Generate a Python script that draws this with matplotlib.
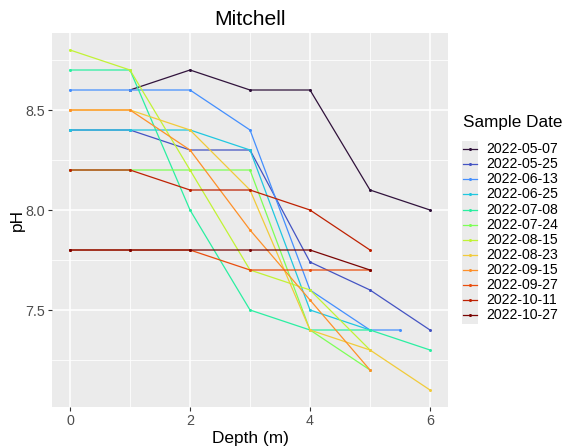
import matplotlib
matplotlib.use("Agg")
import matplotlib.pyplot as plt
from matplotlib.lines import Line2D
import numpy as np

plt.rcParams['font.family'] = ['Liberation Sans', 'DejaVu Sans']

# Sampling dates (legend order)
dates = ["2022-05-07", "2022-05-25", "2022-06-13", "2022-06-25",
         "2022-07-08", "2022-07-24", "2022-08-15", "2022-08-23",
         "2022-09-15", "2022-09-27", "2022-10-11", "2022-10-27"]

# Depth (m) and pH profiles per sampling date
depth_0507 = [1, 2, 3, 4, 5, 6]
ph_0507 = [8.6, 8.7, 8.6, 8.6, 8.1, 8.0]
depth_0525 = [0, 1, 2, 3, 4, 5, 6]
ph_0525 = [8.4, 8.4, 8.3, 8.3, 7.74, 7.6, 7.4]
depth_0613 = [0, 1, 2, 3, 4, 5, 5.5]
ph_0613 = [8.6, 8.6, 8.6, 8.4, 7.6, 7.4, 7.4]
depth_0625 = [0, 1, 2, 3, 4, 5]
ph_0625 = [8.4, 8.4, 8.4, 8.3, 7.5, 7.4]
depth_0708 = [0, 1, 2, 3, 4, 5, 6]
ph_0708 = [8.7, 8.7, 8.0, 7.5, 7.4, 7.4, 7.3]
depth_0724 = [0, 1, 2, 3, 4, 5]
ph_0724 = [8.2, 8.2, 8.2, 8.2, 7.4, 7.2]
depth_0815 = [0, 1, 2, 3, 4, 5]
ph_0815 = [8.8, 8.7, 8.2, 7.7, 7.6, 7.3]
depth_0823 = [0, 1, 2, 3, 4, 5, 6]
ph_0823 = [8.5, 8.5, 8.4, 8.1, 7.4, 7.3, 7.1]
depth_0915 = [0, 1, 2, 3, 4, 5]
ph_0915 = [8.5, 8.5, 8.3, 7.9, 7.55, 7.2]
depth_0927 = [0, 1, 2, 3, 4, 5]
ph_0927 = [7.8, 7.8, 7.8, 7.7, 7.7, 7.7]
depth_1011 = [0, 1, 2, 3, 4, 5]
ph_1011 = [8.2, 8.2, 8.1, 8.1, 8.0, 7.8]
depth_1027 = [0, 1, 2, 3, 4, 5]
ph_1027 = [7.8, 7.8, 7.8, 7.8, 7.8, 7.7]

x_ticks = [0, 2, 4, 6]
y_ticks = [7.5, 8.0, 8.5]
y_tick_labels = ["7.5", "8.0", "8.5"]

profiles = [
    (depth_0507, ph_0507), (depth_0525, ph_0525), (depth_0613, ph_0613),
    (depth_0625, ph_0625), (depth_0708, ph_0708), (depth_0724, ph_0724),
    (depth_0815, ph_0815), (depth_0823, ph_0823), (depth_0915, ph_0915),
    (depth_0927, ph_0927), (depth_1011, ph_1011), (depth_1027, ph_1027),
]

W, H = 566, 447
fig = plt.figure(figsize=(W / 100, H / 100), dpi=100)

# panel in pixel coordinates
pl, pr, pt, pb = 52, 448, 33, 407
ax = fig.add_axes([pl / W, 1 - pb / H, (pr - pl) / W, (pb - pt) / H])
ax.set_facecolor("#ebebeb")

colors = plt.cm.turbo(np.linspace(0, 1, len(dates)))

for (d, p), c in zip(profiles, colors):
    ax.plot(d, p, color=c, lw=0.9, marker="o", ms=2.2, mew=0, zorder=3)

# limits with 5% expansion of data range
all_d = np.concatenate([np.array(d, float) for d, _ in profiles])
all_p = np.concatenate([np.array(p, float) for _, p in profiles])
dx = (all_d.max() - all_d.min()) * 0.05
dy = (all_p.max() - all_p.min()) * 0.05
ax.set_xlim(all_d.min() - dx, all_d.max() + dx)
ax.set_ylim(all_p.min() - dy, all_p.max() + dy)

ax.set_xticks(x_ticks)
ax.set_yticks(y_ticks)
ax.set_yticklabels(y_tick_labels)
ax.set_xticks([1, 3, 5], minor=True)
ax.set_yticks([7.25, 7.75, 8.25, 8.75], minor=True)
ax.grid(which="major", color="white", lw=1.1, zorder=0)
ax.grid(which="minor", color="white", lw=0.55, zorder=0)
ax.set_axisbelow(True)
for s in ax.spines.values():
    s.set_visible(False)
ax.tick_params(which="major", length=3, width=0.8, color="#333333",
               labelcolor="#4d4d4d", labelsize=10.3, pad=2)
ax.tick_params(which="minor", length=0)

ax.set_xlabel("Depth (m)", fontsize=12.4, color="black", labelpad=2)
ax.set_ylabel("pH", fontsize=12.4, color="black", labelpad=0)
ax.set_title("Mitchell", fontsize=15.2, color="black", pad=6)

# legend
fig.text(463 / W, 1 - 122 / H, "Sample Date", fontsize=12.3,
         ha="left", va="center")
key_top, step = 141, 15.06
fig.patches.append(plt.Rectangle((462 / W, 1 - (key_top + step * 12 + 2) / H),
                                 16 / W, (step * 12 + 2) / H,
                                 transform=fig.transFigure,
                                 facecolor="#ebebeb", edgecolor="none"))
for i, (lab, c) in enumerate(zip(dates, colors)):
    yc = 149.3 + step * i
    fig.add_artist(Line2D([463 / W, 477 / W], [1 - yc / H, 1 - yc / H],
                          transform=fig.transFigure, color=c, lw=0.9))
    fig.add_artist(Line2D([470 / W], [1 - yc / H], transform=fig.transFigure,
                          color=c, marker="o", ms=2.2, mew=0))
    fig.text(486 / W, 1 - yc / H, lab, fontsize=10.1, ha="left",
             va="center", color="black")

fig.savefig("out.png", dpi=100)
